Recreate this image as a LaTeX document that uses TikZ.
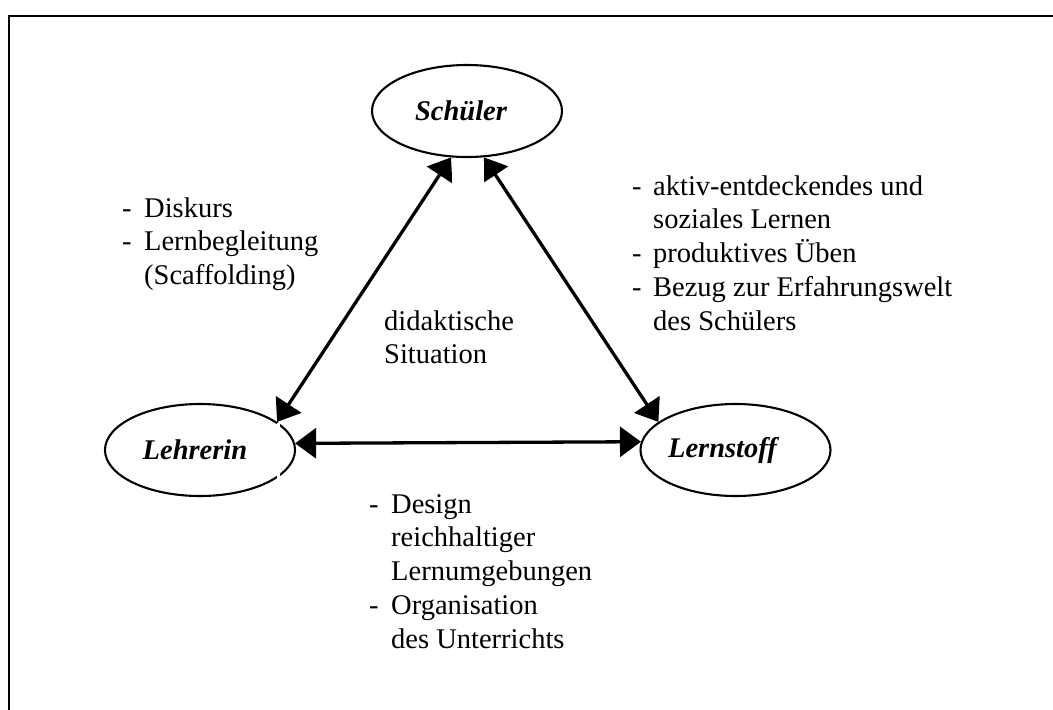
\documentclass[tikz,border=0pt]{standalone}
\usepackage{fontspec}
\setmainfont{Liberation Serif}
\usetikzlibrary{shapes.geometric,arrows.meta}
\newcommand{\txtsize}{\fontsize{28.5pt}{33.8pt}\selectfont}
\begin{document}
\begin{tikzpicture}[x=1pt,y=-1pt,
  pole/.style={ellipse,draw,line width=2.1pt,minimum width=190pt,minimum height=92pt,
    inner sep=0pt,font=\txtsize\bfseries\itshape},
  note/.style={anchor=base west,inner sep=0pt,font=\txtsize},
  link/.style={line width=3.3pt,
    {Triangle[length=21pt,width=30pt]}-{Triangle[length=21pt,width=30pt]}}]
\useasboundingbox (0,0) rectangle (1053,710);

% open frame (top and left edge)
\draw[line width=2.3pt] (1070,16) -- (9.2,16) -- (9.2,730);

% the three poles of the triangle
\node[pole] (schueler)  at (467,111)   {\hspace*{-12pt}Schüler};
\node[pole] (lehrerin)  at (200,450)   {\hspace*{-10pt}Lehrerin};
\node[pole] (lernstoff) at (735.5,450) {\hspace*{-26pt}Lernstoff};

% white text-box edge crossing the right side of the left pole
\fill[white] (277,423) rectangle (280,480);

% relations
\draw[link] (schueler.251) -- (lehrerin.20.5);
\draw[link] (schueler.290) -- (lernstoff.160.4);
\draw[link] (lehrerin.4.9) -- (lernstoff.175.1);

% white text-box area under the top pole
\fill[white] (451.5,161) rectangle (484,196);

% annotations
\node[note] (diskurs) at (122,217) {\begin{tabular}[t]{@{}p{22pt}@{}l@{}}
-&Diskurs\\
-&Lernbegleitung\\
&(Scaffolding)
\end{tabular}};

\node[note] (lernen) at (632,195) {\begin{tabular}[t]{@{}p{21pt}@{}l@{}}
-&aktiv-entdeckendes und\\
&soziales Lernen\\
-&produktives Üben\\
-&Bezug zur Erfahrungswelt\\
&des Schülers
\end{tabular}};

\node[note] (situation) at (384,330) {\begin{tabular}[t]{@{}l@{}}
didaktische\\
Situation
\end{tabular}};

\node[note] (design) at (369,513) {\begin{tabular}[t]{@{}p{22pt}@{}l@{}}
-&Design\\
&reichhaltiger\\
&Lernumgebungen\\
-&Organisation\\
&des Unterrichts
\end{tabular}};
\end{tikzpicture}
\end{document}
